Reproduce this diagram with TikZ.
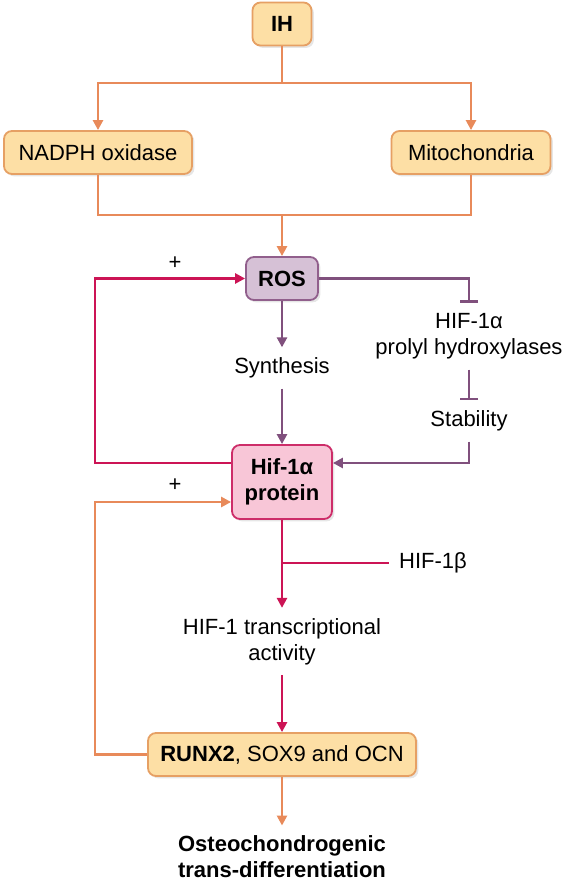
\documentclass[tikz,border=0pt]{standalone}
\usepackage{fontspec}
\setmainfont{Liberation Sans}
\usetikzlibrary{arrows.meta,shadows}
\definecolor{ofill}{RGB}{253,223,165}
\definecolor{oedge}{RGB}{230,160,100}
\definecolor{oline}{RGB}{232,138,90}
\definecolor{pfill}{RGB}{214,193,214}
\definecolor{pedge}{RGB}{145,95,140}
\definecolor{pline}{RGB}{128,80,125}
\definecolor{hfill}{RGB}{248,198,215}
\definecolor{hedge}{RGB}{205,45,105}
\definecolor{rline}{RGB}{204,20,85}
\begin{document}
\begin{tikzpicture}[x=0.5pt,y=-0.5pt,font=\fontsize{11}{13}\selectfont,
  box/.style={rounded corners=4pt,line width=0.9pt,inner xsep=6pt,minimum height=21.5pt,align=center,
    drop shadow={shadow xshift=1.2pt,shadow yshift=-1.2pt,opacity=.2}},
  obox/.style={box,draw=oedge,fill=ofill},
  pbox/.style={box,draw=pedge,fill=pfill},
  hbox/.style={box,draw=hedge,fill=hfill},
  txt/.style={inner sep=5pt,align=center},
  con/.style={line width=1.4pt},
  tip/.style={-{Triangle[length=5pt,width=5pt]}},
  bar/.style={-{Bar[width=9pt]}}]
\useasboundingbox (0,0) rectangle (564,886);
\node [obox,minimum width=29.5pt] (ih) at (282,24) {\bfseries IH};
\node [obox,minimum width=94pt] (nox) at (98,152.5) {NADPH oxidase};
\node [obox,minimum width=79.5pt] (mit) at (471,152.5) {Mitochondria};
\node [pbox,minimum width=36pt] (ros) at (282,278.5) {\bfseries ROS};
\node [txt] (syn) at (282,368) {Synthesis};
\node [txt] (phd) at (469,336.5) {HIF-1α\\prolyl hydroxylases};
\node [txt] (stab) at (469,421) {Stability};
\node [hbox,minimum width=50pt,minimum height=37pt] (hif) at (282,482) {\bfseries Hif-1α\\\bfseries protein};
\node [txt] (beta) at (433,563) {HIF-1β};
\node [txt] (act) at (282,641.5) {HIF-1 transcriptional\\activity};
\node [obox,minimum width=134pt] (runx) at (282,754.5) {\textbf{RUNX2}, SOX9 and OCN};
\node [txt] (ost) at (282,857) {\bfseries Osteochondrogenic\\\bfseries trans-differentiation};
\node (p1) at (175,263) {+};
\node (p2) at (175,485) {+};
\coordinate (br) at (282,83);
\coordinate (mg) at (282,215);
\coordinate (lp1) at (95,463);
\coordinate (lp2) at (95,754.5);
\draw [con,oline] (ih) -- (br);
\draw [con,oline,tip] (br) -| (nox);
\draw [con,oline,tip] (br) -| (mit);
\draw [con,oline] (nox) |- (mg) -| (mit);
\draw [con,oline,tip] (mg) -- (ros);
\draw [con,rline,tip] ([yshift=9.5pt]hif.west) -- (lp1) |- (ros);
\draw [con,pline,tip] (ros) -- (syn);
\draw [con,pline,tip] (syn) -- (hif);
\draw [con,pline,bar] (ros) -| (phd);
\draw [con,pline,bar] (phd) -- (stab);
\draw [con,pline,tip] (stab) |- ([yshift=9.5pt]hif.east);
\draw [con,rline] (beta) -- (beta -| hif);
\draw [con,rline,tip] (hif) -- (act);
\draw [con,rline,tip] (act) -- (runx);
\draw [con,oline,tip] (runx) -- (lp2) |- ([yshift=-10pt]hif.west);
\draw [con,oline,tip] (runx) -- (ost);
\end{tikzpicture}
\end{document}
